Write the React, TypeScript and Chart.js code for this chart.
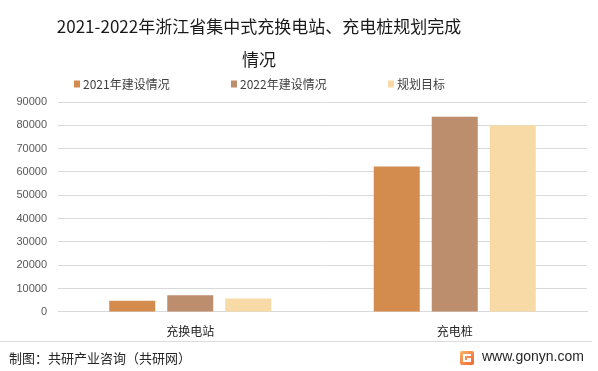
import React, { useEffect, useRef } from "react";
import { Chart, registerables } from "chart.js";

Chart.register(...registerables);

const titleLines = ["2021-2022年浙江省集中式充换电站、充电桩规划完成", "情况"];
const categories = ["充换电站", "充电桩"];
const seriesNames = ["2021年建设情况", "2022年建设情况", "规划目标"];
const values2021 = [4800, 62300];
const values2022 = [7100, 83700];
const valuesTarget = [5700, 80000];
const seriesColors = ["#D38C4E", "#BC8E6D", "#F7DAA5"];
const yTicks = [0, 10000, 20000, 30000, 40000, 50000, 60000, 70000, 80000, 90000];
const footerSource = "制图：共研产业咨询（共研网）";
const footerSite = "www.gonyn.com";

const CJK = '"Noto Sans CJK SC", "Noto Sans", sans-serif';
const LAT = '"Liberation Sans", Arial, sans-serif';

const decorPlugin = {
  id: "decor",
  afterDraw(chart: any) {
    const ctx = chart.ctx as CanvasRenderingContext2D;
    ctx.save();
    // title
    ctx.fillStyle = "#1a1a1a";
    ctx.font = `17px ${CJK}`;
    ctx.textAlign = "center";
    ctx.textBaseline = "middle";
    ctx.fillText(titleLines[0], 259, 27);
    ctx.fillText(titleLines[1], 259, 60);

    // legend
    ctx.textAlign = "left";
    ctx.font = `12px ${CJK}`;
    chart.data.datasets.forEach((ds: any, i: number) => {
      const x = 74 + i * 157;
      const y = 84;
      ctx.fillStyle = ds.backgroundColor;
      ctx.fillRect(x, y - 3.5, 6, 7);
      ctx.fillStyle = "#404040";
      ctx.fillText(ds.label, x + 9, y);
    });

    // footer separator
    ctx.strokeStyle = "#dcdcdc";
    ctx.lineWidth = 1;
    ctx.beginPath();
    ctx.moveTo(0, 341.5);
    ctx.lineTo(592, 341.5);
    ctx.stroke();

    // footer source
    ctx.fillStyle = "#262626";
    ctx.font = `13px ${CJK}`;
    ctx.fillText(footerSource, 9, 358);

    // logo
    const lx = 460, ly = 351, ls = 14;
    const g = ctx.createLinearGradient(lx, ly, lx + ls, ly + ls);
    g.addColorStop(0, "#F9B36B");
    g.addColorStop(1, "#F0652F");
    ctx.fillStyle = g;
    ctx.beginPath();
    ctx.moveTo(lx + 2, ly);
    ctx.lineTo(lx + ls - 2, ly);
    ctx.quadraticCurveTo(lx + ls, ly, lx + ls, ly + 2);
    ctx.lineTo(lx + ls, ly + ls - 2);
    ctx.quadraticCurveTo(lx + ls, ly + ls, lx + ls - 2, ly + ls);
    ctx.lineTo(lx + 2, ly + ls);
    ctx.quadraticCurveTo(lx, ly + ls, lx, ly + ls - 2);
    ctx.lineTo(lx, ly + 2);
    ctx.quadraticCurveTo(lx, ly, lx + 2, ly);
    ctx.fill();
    ctx.fillStyle = "#ffffff";
    ctx.fillRect(lx + 3, ly + 3, 8, 2);
    ctx.fillRect(lx + 3, ly + 3, 2, 8);
    ctx.fillRect(lx + 3, ly + 9, 8, 2);
    ctx.fillRect(lx + 7, ly + 7, 4, 2);

    // site
    ctx.fillStyle = "#262626";
    ctx.font = `14px ${LAT}`;
    ctx.fillText(footerSite, 482, 357);
    ctx.restore();
  },
};

export default function App() {
  const ref = useRef<HTMLCanvasElement | null>(null);
  useEffect(() => {
    if (!ref.current) return;
    const chart = new Chart(ref.current, {
      type: "bar",
      data: {
        labels: categories,
        datasets: [
          { label: seriesNames[0], data: values2021, backgroundColor: seriesColors[0] },
          { label: seriesNames[1], data: values2022, backgroundColor: seriesColors[1] },
          { label: seriesNames[2], data: valuesTarget, backgroundColor: seriesColors[2] },
        ],
      },
      options: {
        responsive: false,
        animation: false,
        events: [],
        layout: { padding: { top: 102, left: 15.5, right: 11, bottom: 32.7 } },
        datasets: {
          bar: { categoryPercentage: 0.658, barPercentage: 0.793 },
        },
        plugins: {
          legend: { display: false },
          title: { display: false },
          tooltip: { enabled: false },
        },
        scales: {
          x: {
            grid: { display: false, drawTicks: false },
            border: { display: true, color: "#d9d9d9" },
            ticks: { color: "#262626", font: { family: CJK, size: 12 }, padding: 12 },
            afterFit: (s: any) => { s.height = 26.4; },
          },
          y: {
            min: 0,
            max: 90000,
            afterBuildTicks: (s: any) => { s.ticks = yTicks.map((v) => ({ value: v })); },
            grid: { color: "#d9d9d9", drawTicks: false },
            border: { display: false },
            ticks: {
              color: "#595959",
              font: { family: LAT, size: 11 },
              padding: 11,
              callback: (v: any) => String(v),
            },
            afterFit: (s: any) => { s.width = 42.5; },
          },
        },
      },
      plugins: [decorPlugin],
    });
    return () => chart.destroy();
  }, []);
  return (
    <div style={{ position: "absolute", left: 0, top: 0, width: 598, height: 371, background: "#fff" }}>
      <canvas ref={ref} width={598} height={371} style={{ display: "block" }} />
    </div>
  );
}
